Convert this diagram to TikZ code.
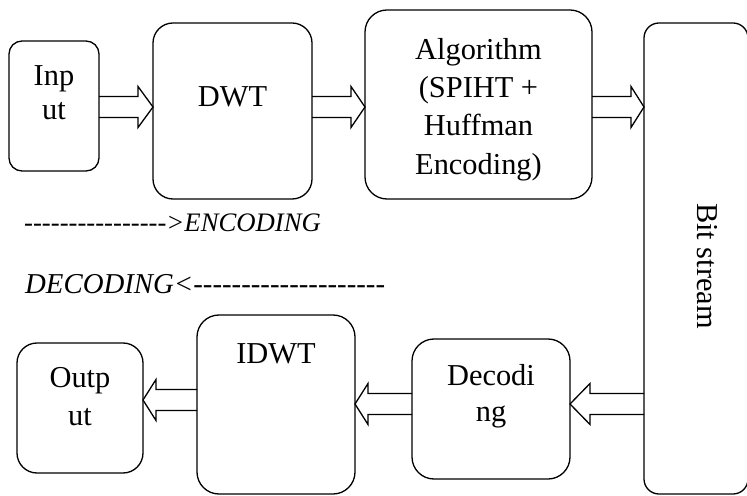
\documentclass[tikz,border=0pt]{standalone}
\usepackage{fontspec}
\setmainfont{Liberation Serif}
\usetikzlibrary{calc}
\newcommand\boxfont[1]{\fontsize{30.5}{#1}\selectfont}
\newcommand\hy{-{}}
\tikzset{
  blk/.style={draw=black, line width=1.3bp, outer sep=0pt, inner sep=0pt, rectangle},
  txt/.style={inner sep=0pt, align=center, text=black},
  blockarrow/.style={draw=black, line width=1.3bp, line join=miter},
  sidetxt/.style={inner sep=0pt, anchor=base west}
}
% right-pointing block arrow: from node #1 to node #2 at height #3, head length #4
\newcommand\rarrow[4]{%
  \draw[blockarrow] let \p1=(#1.east), \p2=(#2.west), \p3=(0,#3) in
    (\x1,\y3+10.5bp) -- (\x2-#4,\y3+10.5bp) -- (\x2-#4,\y3+20.5bp) -- (\x2,\y3)
    -- (\x2-#4,\y3-20.5bp) -- (\x2-#4,\y3-10.5bp) -- (\x1,\y3-10.5bp);}
% left-pointing block arrow
\newcommand\larrow[4]{%
  \draw[blockarrow] let \p1=(#1.west), \p2=(#2.east), \p3=(0,#3) in
    (\x1,\y3+10.5bp) -- (\x2+#4,\y3+10.5bp) -- (\x2+#4,\y3+20.5bp) -- (\x2,\y3)
    -- (\x2+#4,\y3-20.5bp) -- (\x2+#4,\y3-10.5bp) -- (\x1,\y3-10.5bp);}
\begin{document}
\begin{tikzpicture}[x=1bp,y=-1bp]
\useasboundingbox (0,0) rectangle (747,496);
\fill[white] (0,0) rectangle (747,496);
\clip (0,0) rectangle (747,496);

% boxes
\node[blk, rounded corners=13bp, minimum width=90bp, minimum height=130bp] (inp) at (54,106) {};
\node[blk, rounded corners=20bp, minimum width=159bp, minimum height=176bp] (dwt) at (232.5,111) {};
\node[blk, rounded corners=22bp, minimum width=227bp, minimum height=189bp] (alg) at (478.5,104.5) {};
\node[blk, rounded corners=15bp, minimum width=104bp, minimum height=471bp] (bit) at (696,258.5) {};
\node[blk, rounded corners=20bp, minimum width=126bp, minimum height=130bp] (out) at (80,408) {};
\node[blk, rounded corners=22bp, minimum width=158bp, minimum height=179bp] (idwt) at (276,404.5) {};
\node[blk, rounded corners=22bp, minimum width=158bp, minimum height=140bp] (dec) at (491,409) {};

% texts
\node[txt, font=\boxfont{35}] (inpt) at (54,95.5) {\strut Inp\\\strut ut};
\node[txt, font=\boxfont{37}] (dwtt) at (232.5,99.6) {\strut DWT};
\node[txt, font=\boxfont{38.5}] (algt) at (478.5,109) {\strut Algorithm\\\strut (SPIHT +\\\strut Huffman\\\strut Encoding)};
\node[txt, font=\boxfont{37}, rotate=-90] (bitt) at (707.5,266) {Bit stream};
\node[txt, font=\boxfont{39}] (outt) at (80,398.7) {\strut Outp\\\strut ut};
\node[txt, font=\boxfont{37}] (idwtt) at (276,356.6) {\strut IDWT};
\node[txt, font=\boxfont{37}] (dect) at (491,396.1) {\strut Decodi\\\strut ng};

% side texts
\node[sidetxt, font=\fontsize{26.8}{30}\selectfont\itshape] (enc) at (24,231.5) {\hy\hy\hy\hy\hy\hy\hy\hy\hy\hy\hy\hy\hy\hy\hy\hy>ENCODING};
\node[sidetxt, font=\fontsize{28.9}{32}\selectfont\itshape] (decl) at (25,294) {DECODING<\hy\hy\hy\hy\hy\hy\hy\hy\hy\hy\hy\hy\hy\hy\hy\hy\hy\hy\hy\hy};

% arrows
\rarrow{inp}{dwt}{107}{15bp}
\rarrow{dwt}{alg}{107}{14bp}
\rarrow{alg}{bit}{107}{13bp}
\larrow{bit}{dec}{404}{20bp}
\larrow{dec}{idwt}{404}{13bp}
\larrow{idwt}{out}{400}{13bp}
\end{tikzpicture}
\end{document}
